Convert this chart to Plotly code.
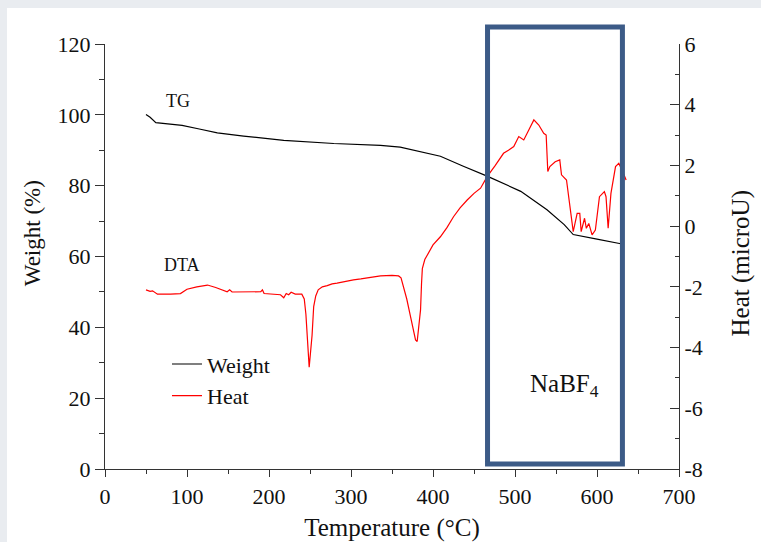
import plotly.graph_objects as go

# TG curve: weight (%) vs temperature (°C)
tg_temp = [50, 55, 62, 75, 94, 115, 137, 169, 218, 279, 336, 360, 376, 409,
           437, 466, 507, 539, 560, 571, 600, 629]
tg_weight = [100.1, 99.3, 97.8, 97.4, 97.0, 96.0, 94.9, 94.0, 92.8, 91.9, 91.4,
             90.9, 90.0, 88.3, 85.5, 82.7, 78.4, 73.2, 69.0, 66.2, 64.9, 63.6]

# DTA curve: heat flow (microU) vs temperature (°C)
dta_temp = [50, 55, 58, 64, 80, 92, 100, 112, 125, 135, 149, 152, 155, 173, 190,
            192, 194, 214, 218, 221, 224, 227, 232, 240, 243, 245, 246.5, 248,
            249, 250.5, 252.5, 254.5, 257, 260, 265, 271, 277, 283, 293, 303,
            312, 320, 336, 350, 358, 361, 364, 368, 372.6, 376, 378.7, 380.7,
            383, 384.8, 386, 387, 390, 395, 400, 409, 417, 425, 433, 441.7, 450,
            458, 466, 476, 486, 492, 498.5, 504.6, 510.7, 516.8, 523, 529, 535,
            538, 540, 542.5, 549, 554.6, 556.7, 562.8, 567.7, 571, 575.8, 579,
            580.7, 584.8, 587, 590, 594, 598, 603, 609, 611, 613.6, 617, 622.6,
            626.6, 628.7, 632, 635.5]
dta_heat = [-2.10, -2.15, -2.13, -2.24, -2.24, -2.22, -2.08, -2.00, -1.94, -2.02,
            -2.16, -2.10, -2.17, -2.16, -2.16, -2.10, -2.22, -2.26, -2.36, -2.22,
            -2.26, -2.18, -2.24, -2.24, -2.40, -2.90, -3.60, -4.45, -4.65, -4.20,
            -3.60, -2.65, -2.30, -2.10, -2.00, -1.96, -1.90, -1.88, -1.82, -1.77,
            -1.74, -1.70, -1.64, -1.62, -1.64, -1.70, -1.99, -2.40, -2.98, -3.40,
            -3.75, -3.80, -3.20, -2.76, -1.90, -1.40, -1.10, -0.84, -0.62, -0.35,
            -0.05, 0.31, 0.60, 0.86, 1.08, 1.25, 1.63, 2.00, 2.40, 2.50, 2.62,
            2.95, 2.84, 3.17, 3.50, 3.33, 3.06, 3.00, 1.80, 1.96, 2.12, 2.18,
            1.69, 1.52, 0.53, -0.18, 0.42, 0.42, -0.18, 0.26, -0.07, 0.09, -0.29,
            -0.13, 0.97, 1.14, 0.97, -0.07, 1.08, 1.96, 2.07, 1.96, 1.75, 1.52]

# Axis ticks
x_ticks = [0, 100, 200, 300, 400, 500, 600, 700]
x_minor = [50, 150, 250, 350, 450, 550, 650]
weight_ticks = [0, 20, 40, 60, 80, 100, 120]
weight_minor = [10, 30, 50, 70, 90, 110]
heat_ticks = [-8, -6, -4, -2, 0, 2, 4, 6]
heat_labels = ["-8", "-6", "-4", "-2", "0", "2", "4", "6"]
heat_minor = [-7, -5, -3, -1, 1, 3, 5]

# Temperature window of the NaBF4 decomposition region
nabf4_window = [466.5, 631]

FONT = "Liberation Serif"
AXIS_COLOR = "#333333"
TEXT_COLOR = "#111111"

fig = go.Figure()
fig.add_trace(go.Scatter(x=tg_temp, y=tg_weight, mode="lines", name="Weight",
                         line=dict(color="#000000", width=1.2), yaxis="y"))
fig.add_trace(go.Scatter(x=dta_temp, y=dta_heat, mode="lines", name="Heat",
                         line=dict(color="#ff0000", width=1.2), yaxis="y2"))

axis_common = dict(showgrid=False, zeroline=False, showline=True, automargin=False,
                   linecolor=AXIS_COLOR, linewidth=1.3, tickcolor=AXIS_COLOR,
                   tickwidth=1.3,
                   tickfont=dict(family=FONT, size=22, color=TEXT_COLOR))

fig.update_layout(
    width=761, height=542,
    margin=dict(l=105, r=82, t=44, b=73),
    paper_bgcolor="#e9ecf0",
    plot_bgcolor="#ffffff",
    font=dict(family=FONT, color=TEXT_COLOR),
    xaxis=dict(range=[0, 700], tickmode="array", tickvals=x_ticks,
               ticks="outside", ticklen=7,
               minor=dict(tickmode="array", tickvals=x_minor, ticks="outside",
                          ticklen=4, tickcolor=AXIS_COLOR, tickwidth=1.3),
               title=dict(text="Temperature (°C)", standoff=21,
                          font=dict(family=FONT, size=25, color=TEXT_COLOR)),
               **axis_common),
    yaxis=dict(range=[0, 120], tickmode="array", tickvals=weight_ticks,
               ticks="outside", ticklen=9,
               minor=dict(tickmode="array", tickvals=weight_minor, ticks="outside",
                          ticklen=5, tickcolor=AXIS_COLOR, tickwidth=1.3),
               **axis_common),
    yaxis2=dict(range=[-8, 6], overlaying="y", side="right", anchor="x",
                tickmode="array", tickvals=heat_ticks, ticktext=heat_labels,
                ticks="inside", ticklen=9,
                minor=dict(tickmode="array", tickvals=heat_minor, ticks="inside",
                           ticklen=4, tickcolor=AXIS_COLOR, tickwidth=1.3),
                **axis_common),
    legend=dict(x=0.108, y=0.296, xanchor="left", yanchor="top",
                bgcolor="rgba(0,0,0,0)",
                font=dict(family=FONT, size=22, color=TEXT_COLOR),
                tracegroupgap=0),
    showlegend=True,
)

# White page area over the grey frame
fig.add_shape(type="rect", xref="paper", yref="paper", x0=-0.1707, x1=1.2,
              y0=-0.25, y1=1.0847, fillcolor="#ffffff", line=dict(width=0),
              layer="below")

# Highlight box for the NaBF4 region
fig.add_shape(type="rect", xref="x", yref="paper",
              x0=nabf4_window[0], x1=nabf4_window[1], y0=0.012, y1=1.04,
              line=dict(color="#3c5b87", width=5), fillcolor="rgba(0,0,0,0)",
              layer="above")

# Curve labels and axis titles
fig.add_annotation(x=89.6, y=103.8, xref="x", yref="y", text="TG", showarrow=False,
                   font=dict(family=FONT, size=18, color=TEXT_COLOR))
fig.add_annotation(x=94.5, y=57.7, xref="x", yref="y", text="DTA", showarrow=False,
                   font=dict(family=FONT, size=18, color=TEXT_COLOR))
fig.add_annotation(x=560, y=23.5, xref="x", yref="y", text="NaBF<sub>4</sub>",
                   showarrow=False, font=dict(family=FONT, size=25, color=TEXT_COLOR))
fig.add_annotation(x=-0.127, y=0.555, xref="paper", yref="paper", text="Weight (%)",
                   textangle=-90, showarrow=False, xanchor="center", yanchor="middle",
                   font=dict(family=FONT, size=23, color=TEXT_COLOR))
fig.add_annotation(x=1.108, y=0.4835, xref="paper", yref="paper", text="Heat (microU)",
                   textangle=-90, showarrow=False, xanchor="center", yanchor="middle",
                   font=dict(family=FONT, size=25, color=TEXT_COLOR))

fig.write_html("out.html")
